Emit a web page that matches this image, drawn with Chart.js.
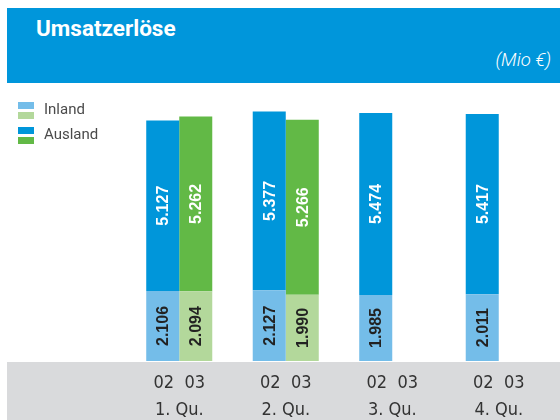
<!DOCTYPE html>
<html>
<head>
<meta charset="utf-8">
<script src="https://cdn.jsdelivr.net/npm/chart.js@4.4.1/dist/chart.umd.min.js"></script>
<style>
  body { margin: 0; background: #fff; }
  .wrap { position: relative; width: 560px; height: 420px; overflow: hidden; font-family: Roboto, "Liberation Sans", sans-serif; }
  .head { position: absolute; left: 7px; top: 8px; width: 553px; height: 75px; background: #0096db; color: #fff; }
  .head h1 { margin: 0; position: absolute; left: 29px; top: 7px; font-size: 22.5px; font-weight: bold; }
  .head .unit { position: absolute; right: 9px; top: 41px; font-size: 18.5px; font-style: italic; font-weight: 300; }
  .legend { position: absolute; left: 18px; top: 100px; font-size: 15px; color: #4a4a4a; }
  .legend .item { position: relative; height: 25px; }
  .legend .sw { position: absolute; left: 0; width: 16px; height: 7px; }
  .legend .txt { position: absolute; left: 26px; top: 0; line-height: 18px; }
  canvas { position: absolute; left: 0; top: 0; }
</style>
</head>
<body>
<div class="wrap">
  <div class="head">
    <h1>Umsatzerlöse</h1>
    <div class="unit">(Mio €)</div>
  </div>
  <canvas id="umsatzChart" width="560" height="420"></canvas>
  <div class="legend" id="legend"></div>
</div>
<script>
// data (Mio €)
const quarters = ["1. Qu.", "2. Qu.", "3. Qu.", "4. Qu."];
const years = ["02", "03"];
const inland02 = [2106, 2127, 1985, 2011];
const ausland02 = [5127, 5377, 5474, 5417];
const inland03 = [2094, 1990, null, null];
const ausland03 = [5262, 5266, null, null];

const blue = "#0096da";
const lightBlue = "#74bde9";
const green = "#62b946";
const lightGreen = "#b3d89b";

// legend
const legendItems = [
  { name: "Inland", colors: [lightBlue, lightGreen] },
  { name: "Ausland", colors: [blue, green] },
];
let legendEl = document.getElementById("legend");
legendItems.forEach((it) => {
  let row = document.createElement("div");
  row.className = "item";
  row.innerHTML = `
    <div class="sw" style="top:2px;background:${it.colors[0]}"></div>
    <div class="sw" style="top:12px;background:${it.colors[1]}"></div>
    <div class="txt">${it.name}</div>`;
  legendEl.appendChild(row);
});

// gray band under the bars
const bandPlugin = {
  id: "band",
  beforeDraw(chart) {
    const { ctx, chartArea } = chart;
    ctx.save();
    ctx.fillStyle = "#d9dadc";
    ctx.fillRect(7, chartArea.bottom + 1, chart.width - 7, chart.height - chartArea.bottom);
    ctx.restore();
  },
};

// rotated value labels inside segments
const valuePlugin = {
  id: "values",
  afterDatasetsDraw(chart) {
    const ctx = chart.ctx;
    ctx.save();
    ctx.font = "bold 16px 'Liberation Sans', Arial, sans-serif";
    ctx.textAlign = "center";
    ctx.textBaseline = "middle";
    chart.data.datasets.forEach((ds, i) => {
      const meta = chart.getDatasetMeta(i);
      meta.data.forEach((bar, j) => {
        const v = ds.data[j];
        if (v == null) return;
        const cy = (bar.y + bar.base) / 2;
        ctx.save();
        ctx.translate(bar.x + 1, cy);
        ctx.rotate(-Math.PI / 2);
        ctx.fillStyle = ds.labelColor;
        ctx.fillText(v.toLocaleString("de-DE"), 0, 0);
        ctx.restore();
      });
    });
    ctx.restore();
  },
};

new Chart(document.getElementById("umsatzChart"), {
  type: "bar",
  data: {
    labels: quarters.map((q) => [years[0] + "  " + years[1], q]),
    datasets: [
      { label: "Inland 02", data: inland02, stack: "02", backgroundColor: lightBlue, labelColor: "#222" },
      { label: "Ausland 02", data: ausland02, stack: "02", backgroundColor: blue, labelColor: "#fff" },
      { label: "Inland 03", data: inland03, stack: "03", backgroundColor: lightGreen, labelColor: "#222" },
      { label: "Ausland 03", data: ausland03, stack: "03", backgroundColor: green, labelColor: "#fff" },
    ],
  },
  options: {
    responsive: false,
    animation: false,
    layout: { padding: { left: 126, right: 8, top: 95, bottom: 0 } },
    plugins: { legend: { display: false }, tooltip: { enabled: false } },
    datasets: { bar: { barPercentage: 1, categoryPercentage: 0.62 } },
    scales: {
      x: {
        stacked: true,
        grid: { display: false, drawTicks: false },
        border: { display: false },
        ticks: {
          color: "#333",
          padding: 9,
          font: { family: "'Liberation Sans Narrow', 'DejaVu Sans Condensed', sans-serif", size: 18, lineHeight: 1.5 },
        },
        afterFit(scale) {
          scale.height = 59;
        },
      },
      y: {
        stacked: true,
        display: false,
        min: 0,
        max: 8000,
      },
    },
  },
  plugins: [bandPlugin, valuePlugin],
});
</script>
</body>
</html>
